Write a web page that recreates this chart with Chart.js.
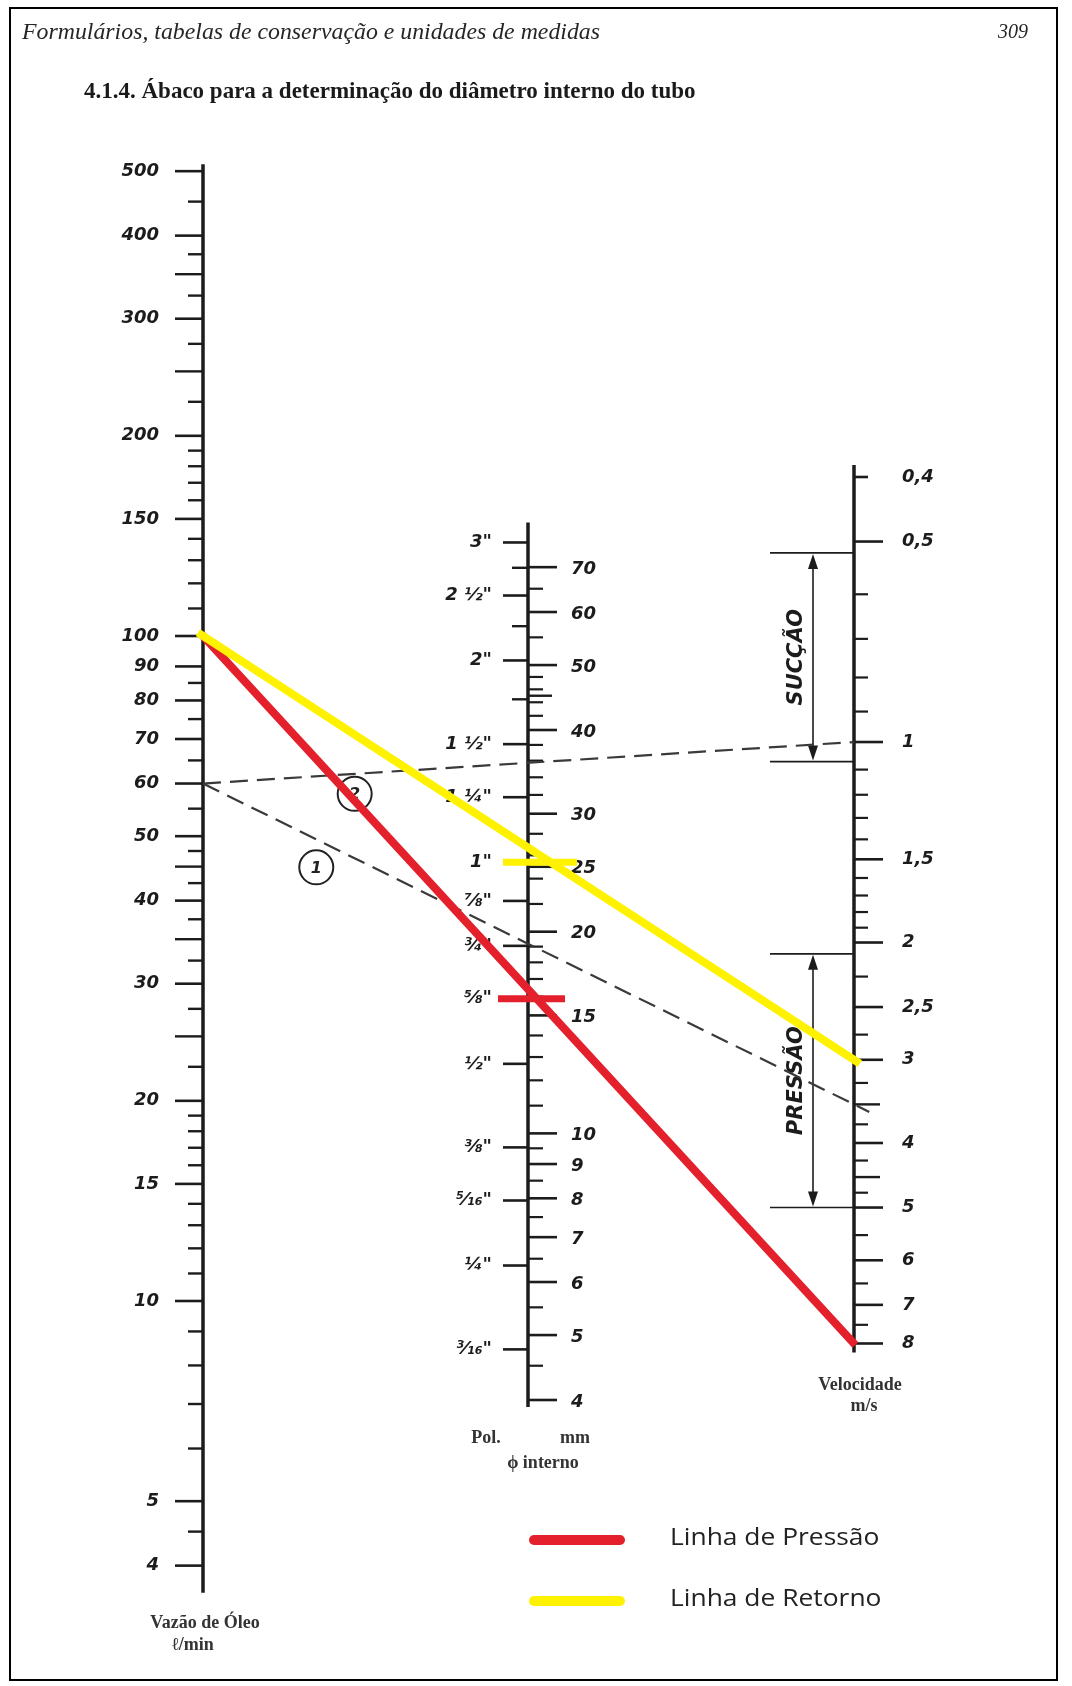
<!DOCTYPE html>
<html>
<head>
<meta charset="utf-8">
<script src="https://cdn.jsdelivr.net/npm/chart.js@4.4.1/dist/chart.umd.min.js"></script>
<style>
  html, body { margin: 0; padding: 0; background: #fff; }
  canvas { display: block; }
</style>
</head>
<body>
<canvas id="abaco" width="1072" height="1686"></canvas>
<script>
// Vazão de óleo (l/min) - escala da esquerda
const flowLabels = [500, 400, 300, 200, 150, 100, 90, 80, 70, 60, 50, 40, 30, 20, 15, 10, 5, 4];
const flowMid = [350, 250, 45, 35, 25];
const flowMinor = [450, 375, 325, 275, 225, 190, 180, 170, 160, 140, 130, 120, 110, 85, 75, 65, 55,
  47.5, 42.5, 37.5, 32.5, 27.5, 22.5, 19, 18, 17, 16, 14, 13, 12, 11, 9, 8, 7, 6, 4.5];

// Diâmetro interno (mm) - lado direito da escala central
const mmLabels = [70, 60, 50, 40, 30, 25, 20, 15, 10, 9, 8, 7, 6, 5, 4];
const mmMid = [45];
const mmMinor = [65, 55, 48, 46, 44, 42, 38, 36, 34, 32, 28, 26, 24, 22, 19, 18, 17, 16,
  14, 13, 12, 11, 9.5, 8.5, 7.5, 6.5, 5.5, 4.5];

// Polegadas - lado esquerdo da escala central (posição em mm)
const inchLabels = ['3"', '2 ½"', '2"', '1 ½"', '1 ¼"', '1"', '⅞"', '¾"', '⅝"', '½"', '⅜"', '⁵⁄₁₆"', '¼"', '³⁄₁₆"'];
const inchMm = [76.2, 63.5, 50.8, 38.1, 31.75, 25.4, 22.23, 19.05, 15.88, 12.7, 9.53, 7.94, 6.35, 4.76];
const inchMid = [69.85, 57.15, 44.45];

// Velocidade (m/s) - escala da direita
const speedLabels = ['0,4', '0,5', '1', '1,5', '2', '2,5', '3', '4', '5', '6', '7', '8'];
const speedValues = [0.4, 0.5, 1, 1.5, 2, 2.5, 3, 4, 5, 6, 7, 8];
const speedMid = [3.5, 4.5];
const speedMinor = [0.6, 0.7, 0.8, 0.9, 1.1, 1.2, 1.3, 1.4, 1.6, 1.7, 1.8, 1.9,
  2.25, 2.75, 3.25, 3.75, 4.25, 4.75, 5.5, 6.5, 7.5];

// Faixas recomendadas (m/s)
const suctionRange = [0.52, 1.07];
const pressureRange = [2.08, 5];

// Exemplos tracejados: vazão -> velocidade
const exampleNames = ['1', '2'];
const exampleFlow = [60, 60];
const exampleSpeed = [3.5, 1];

// Linhas coloridas: vazão -> velocidade, marca no diâmetro (mm)
const lineNames = ['Linha de Pressão', 'Linha de Retorno'];
const lineFlow = [100, 100];
const lineSpeed = [8, 3];
const linePipe = [15.88, 25.4];

const W = 1072, H = 1686;
const TOP = 120, BOTTOM = 1640;
const AXIS_X = { flow: 203, pipe: 528, speed: 854 };
const COLORS = { ink: "#1c1c1c", dash: "#3a3a3a", red: "#E3202B", yellow: "#FFF200" };
const LABEL_FONT = 'italic bold 18px "DejaVu Sans"';

// min/max of a log axis so that `value` lands on `pixel` with `perDecade` px per decade
function logBounds(value, pixel, perDecade, reverse) {
  const up = (pixel - TOP) / perDecade;
  const down = (BOTTOM - pixel) / perDecade;
  const lv = Math.log10(value);
  return reverse
    ? { min: Math.pow(10, lv - up), max: Math.pow(10, lv + down) }
    : { min: Math.pow(10, lv - down), max: Math.pow(10, lv + up) };
}

function hline(ctx, x1, x2, y, w) {
  ctx.lineWidth = w;
  ctx.beginPath();
  ctx.moveTo(x1, y);
  ctx.lineTo(x2, y);
  ctx.stroke();
}

function text(ctx, str, x, y, font, align, maxWidth) {
  ctx.font = font;
  ctx.textAlign = align || "left";
  ctx.textBaseline = "middle";
  if (maxWidth) ctx.fillText(str, x, y, maxWidth);
  else ctx.fillText(str, x, y);
}

function arrowHead(ctx, x, y, dir) {
  ctx.beginPath();
  ctx.moveTo(x, y);
  ctx.lineTo(x - 5, y + dir * 15);
  ctx.lineTo(x + 5, y + dir * 15);
  ctx.closePath();
  ctx.fill();
}

function drawRange(ctx, yA, yB, label) {
  const xL = 770, xArrow = 813;
  ctx.strokeStyle = COLORS.ink;
  ctx.fillStyle = COLORS.ink;
  hline(ctx, xL, AXIS_X.speed, yA, 1.6);
  hline(ctx, xL, AXIS_X.speed, yB, 1.6);
  ctx.lineWidth = 1.6;
  ctx.beginPath();
  ctx.moveTo(xArrow, yA + 4);
  ctx.lineTo(xArrow, yB - 4);
  ctx.stroke();
  arrowHead(ctx, xArrow, yA + 1, 1);
  arrowHead(ctx, xArrow, yB - 1, -1);
  ctx.save();
  ctx.translate(797, (yA + yB) / 2);
  ctx.rotate(-Math.PI / 2);
  text(ctx, label, 0, 0, 'italic bold 21px "DejaVu Sans"', "center", label.length * 17);
  ctx.restore();
}

function segment(x1, y1, x2, y2, extA, extB) {
  const len = Math.hypot(x2 - x1, y2 - y1);
  const ux = (x2 - x1) / len, uy = (y2 - y1) / len;
  return [x1 - ux * extA, y1 - uy * extA, x2 + ux * extB, y2 + uy * extB];
}

const nomogram = {
  id: "nomogram",
  afterDraw(chart) {
    const { ctx, scales } = chart;
    const yF = (v) => scales.flow.getPixelForValue(v);
    const yD = (v) => scales.pipe.getPixelForValue(v);
    const yV = (v) => scales.speed.getPixelForValue(v);
    const xF = scales.x.getPixelForValue(AXIS_X.flow);
    const xD = scales.x.getPixelForValue(AXIS_X.pipe);
    const xV = scales.x.getPixelForValue(AXIS_X.speed);

    ctx.save();
    ctx.lineCap = "butt";

    // moldura
    ctx.strokeStyle = "#000";
    ctx.lineWidth = 2;
    ctx.strokeRect(10, 8, 1047, 1672);

    // cabeçalho
    ctx.fillStyle = "#262626";
    text(ctx, "Formulários, tabelas de conservação e unidades de medidas", 22, 33, 'italic 24px "Liberation Serif"', "left", 578);
    text(ctx, "309", 998, 33, 'italic 20px "Liberation Serif"', "left");
    ctx.fillStyle = "#1a1a1a";
    text(ctx, "4.1.4. Ábaco para a determinação do diâmetro interno do tubo", 84, 92, 'bold 23px "Liberation Serif"', "left", 615);

    ctx.strokeStyle = COLORS.ink;
    ctx.fillStyle = COLORS.ink;

    // eixos
    ctx.lineWidth = 3.5;
    ctx.beginPath();
    ctx.moveTo(xF, yF(500) - 7); ctx.lineTo(xF, yF(4) + 27);
    ctx.moveTo(xD, yD(76.2) - 20); ctx.lineTo(xD, yD(4) + 7);
    ctx.moveTo(xV, yV(0.4) - 12); ctx.lineTo(xV, yV(8) + 9);
    ctx.stroke();

    // escala de vazão
    flowLabels.forEach((v) => {
      hline(ctx, xF - 28, xF, yF(v), 2.6);
      text(ctx, String(v), xF - 44, yF(v), LABEL_FONT, "right");
    });
    flowMid.forEach((v) => hline(ctx, xF - 28, xF, yF(v), 2.4));
    flowMinor.forEach((v) => hline(ctx, xF - 15, xF, yF(v), 2.4));

    // escala de diâmetro
    mmLabels.forEach((v) => {
      hline(ctx, xD, xD + 29, yD(v), 2.6);
      text(ctx, String(v), xD + 43, yD(v) + 2, LABEL_FONT, "left");
    });
    mmMid.forEach((v) => hline(ctx, xD, xD + 24, yD(v), 2.4));
    mmMinor.forEach((v) => hline(ctx, xD, xD + 15, yD(v), 2.2));
    inchMm.forEach((v, i) => {
      hline(ctx, xD - 25, xD, yD(v), 2.6);
      text(ctx, inchLabels[i], xD - 36, yD(v), LABEL_FONT, "right");
    });
    inchMid.forEach((v) => hline(ctx, xD - 16, xD, yD(v), 2.4));

    // escala de velocidade
    speedValues.forEach((v, i) => {
      hline(ctx, xV, xV + (v < 0.5 ? 14 : 29), yV(v), 2.6);
      text(ctx, speedLabels[i], xV + 48, yV(v), LABEL_FONT, "left");
    });
    speedMid.forEach((v) => hline(ctx, xV, xV + 26, yV(v), 2.4));
    speedMinor.forEach((v) => hline(ctx, xV, xV + 14, yV(v), 2.2));

    // faixas sucção / pressão
    drawRange(ctx, yV(suctionRange[0]), yV(suctionRange[1]), "SUCÇÃO");
    drawRange(ctx, yV(pressureRange[0]), yV(pressureRange[1]), "PRESSÃO");

    // títulos das escalas
    ctx.fillStyle = "#333";
    const small = 'bold 18px "Liberation Serif"';
    text(ctx, "Vazão de Óleo", xF + 2, 1623, small, "center", 124);
    text(ctx, "ℓ/min", xF - 10, 1645, small, "center");
    text(ctx, "Pol.", 486, 1438, small, "center");
    text(ctx, "mm", 575, 1438, small, "center");
    text(ctx, "ϕ interno", 543, 1463, small, "center", 82);
    text(ctx, "Velocidade", 860, 1385, small, "center", 95);
    text(ctx, "m/s", 864, 1406, small, "center");

    // exemplos tracejados com marcadores circulares
    ctx.strokeStyle = COLORS.dash;
    ctx.lineWidth = 2.2;
    ctx.setLineDash([18, 9]);
    const circleSpots = [{ t: 0.174, dy: 28 }, { t: 0.233, dy: 20 }];
    const dashEnds = [];
    exampleFlow.forEach((q, i) => {
      const s = segment(xF, yF(q), xV, yV(exampleSpeed[i]), 0, i === 0 ? 17 : 0);
      ctx.beginPath();
      ctx.moveTo(s[0], s[1]);
      ctx.lineTo(s[2], s[3]);
      ctx.stroke();
      dashEnds.push([xF, yF(q), xV, yV(exampleSpeed[i])]);
    });
    ctx.setLineDash([]);
    ctx.strokeStyle = "#222";
    ctx.fillStyle = "#222";
    exampleNames.forEach((name, i) => {
      const [x1, y1, x2, y2] = dashEnds[i];
      const c = circleSpots[i];
      const cx = x1 + (x2 - x1) * c.t;
      const cy = y1 + (y2 - y1) * c.t + c.dy;
      ctx.lineWidth = 2;
      ctx.beginPath();
      ctx.arc(cx, cy, 17, 0, Math.PI * 2);
      ctx.stroke();
      text(ctx, name, cx, cy + 1, 'italic bold 16px "DejaVu Sans"', "center");
    });

    // linhas de pressão e retorno
    const lineColors = [COLORS.red, COLORS.yellow];
    const barSpan = [[498, 565], [503, 577]];
    lineFlow.forEach((q, i) => {
      const s = segment(xF, yF(q), xV, yV(lineSpeed[i]), i === 1 ? 6 : 2, i === 1 ? 7 : 2);
      ctx.strokeStyle = lineColors[i];
      ctx.lineWidth = 8;
      ctx.beginPath();
      ctx.moveTo(s[0], s[1]);
      ctx.lineTo(s[2], s[3]);
      ctx.stroke();
    });
    linePipe.forEach((d, i) => {
      ctx.strokeStyle = lineColors[i];
      hline(ctx, barSpan[i][0], barSpan[i][1], yD(d), 7);
    });

    // legenda
    const legendY = [1540, 1601];
    lineNames.forEach((name, i) => {
      ctx.strokeStyle = lineColors[i];
      ctx.lineCap = "round";
      hline(ctx, 534, 620, legendY[i], 10);
      ctx.fillStyle = "#222";
      ctx.save();
      ctx.translate(670, legendY[i] - 2);
      ctx.scale(1.1, 1);
      text(ctx, name, 0, 0, '24px "Open Sans"', "left");
      ctx.restore();
    });

    ctx.restore();
  }
};

document.addEventListener("DOMContentLoaded", () => {
  const ctx = document.getElementById("abaco");
  new Chart(ctx, {
    type: "scatter",
    data: { datasets: [] },
    options: {
      responsive: false,
      animation: false,
      layout: { padding: { top: TOP, bottom: H - BOTTOM, left: 0, right: 0 } },
      plugins: { legend: { display: false }, tooltip: { enabled: false } },
      scales: {
        x: { type: "linear", min: 0, max: W, display: false },
        flow: { type: "logarithmic", axis: "y", display: false, bounds: "data", ...logBounds(100, 636, 665, false) },
        pipe: { type: "logarithmic", axis: "y", display: false, bounds: "data", ...logBounds(4, 1400, 670, false) },
        speed: { type: "logarithmic", axis: "y", display: false, bounds: "data", reverse: true, ...logBounds(0.4, 477, 666, true) }
      }
    },
    plugins: [nomogram]
  });
});
</script>
</body>
</html>
